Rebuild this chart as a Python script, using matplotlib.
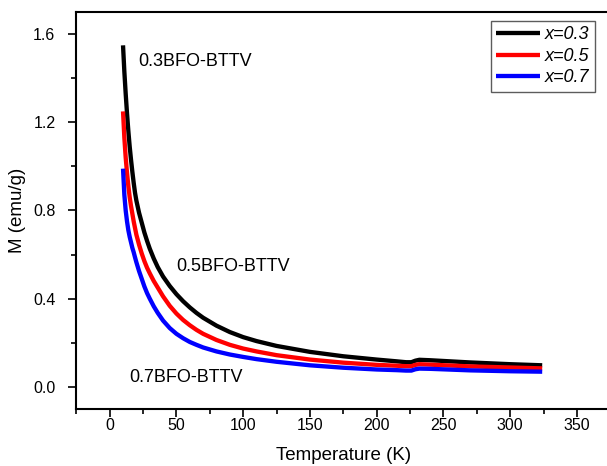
import numpy as np
import matplotlib
matplotlib.use('Agg')
import matplotlib.pyplot as plt
from matplotlib.ticker import MultipleLocator, FormatStrFormatter

plt.rcParams['font.family'] = ['Liberation Sans', 'DejaVu Sans']

# temperature grid (K)
temp = [10, 11, 12, 13, 14, 15, 16, 17, 18, 19, 20, 22, 24, 26, 28, 30, 33, 36,
        40, 45, 50, 55, 60, 65, 70, 80, 90, 100, 110, 125, 150, 175, 200, 215,
        222, 226, 229, 232, 240, 270, 300, 324]

# magnetization (emu/g) for each composition
m_03 = [1.55, 1.43, 1.33, 1.24, 1.16, 1.09, 1.03, 0.975, 0.925, 0.88, 0.845,
        0.79, 0.745, 0.70, 0.662, 0.627, 0.582, 0.543, 0.50, 0.457, 0.42, 0.388,
        0.36, 0.335, 0.313, 0.277, 0.248, 0.225, 0.207, 0.185, 0.158, 0.138,
        0.123, 0.115, 0.111, 0.111, 0.118, 0.122, 0.12, 0.11, 0.102, 0.097]
m_05 = [1.25, 1.13, 1.04, 0.97, 0.91, 0.86, 0.82, 0.785, 0.75, 0.72, 0.69,
        0.645, 0.605, 0.57, 0.54, 0.515, 0.48, 0.45, 0.41, 0.367, 0.332, 0.303,
        0.279, 0.258, 0.24, 0.212, 0.19, 0.173, 0.16, 0.143, 0.123, 0.109,
        0.099, 0.095, 0.093, 0.093, 0.099, 0.102, 0.10, 0.092, 0.087, 0.083]
m_07 = [0.99, 0.87, 0.80, 0.75, 0.71, 0.68, 0.655, 0.63, 0.61, 0.587, 0.565,
        0.525, 0.49, 0.455, 0.425, 0.40, 0.365, 0.335, 0.30, 0.266, 0.24, 0.22,
        0.203, 0.19, 0.178, 0.16, 0.146, 0.135, 0.125, 0.113, 0.097, 0.086,
        0.078, 0.075, 0.073, 0.073, 0.079, 0.082, 0.081, 0.074, 0.07, 0.068]

labels = ['x=0.3', 'x=0.5', 'x=0.7']
colors = ['black', 'red', 'blue']

fig = plt.figure(figsize=(6.07, 4.66), dpi=100)
ax = fig.add_axes([0.1257, 0.1230, 0.8797, 0.8506])

for m, lab, c in zip([m_03, m_05, m_07], labels, colors):
    ax.plot(temp, m, color=c, lw=3.1, label=lab, solid_capstyle='butt',
            solid_joinstyle='round')

ax.set_xlim(-25, 375)
ax.set_ylim(-0.1, 1.7)
ax.xaxis.set_major_locator(MultipleLocator(50))
ax.xaxis.set_minor_locator(MultipleLocator(25))
ax.yaxis.set_major_locator(MultipleLocator(0.4))
ax.yaxis.set_minor_locator(MultipleLocator(0.2))
ax.yaxis.set_major_formatter(FormatStrFormatter('%.1f'))
ax.tick_params(which='major', direction='out', length=6, width=1.2,
               labelsize=11.5)
ax.tick_params(which='minor', direction='out', length=3.5, width=1.2)
ax.tick_params(axis='x', which='major', pad=0.5)
ax.tick_params(axis='y', which='major', pad=9)
for s in ax.spines.values():
    s.set_linewidth(1.5)

ax.set_xlabel('Temperature (K)', fontsize=13.5, labelpad=10)
ax.set_ylabel('M (emu/g)', fontsize=13.5, labelpad=5)

ax.text(21.7, 1.475, '0.3BFO-BTTV', fontsize=13, va='center', ha='left')
ax.text(49.6, 0.545, '0.5BFO-BTTV', fontsize=13, va='center', ha='left')
ax.text(14.8, 0.041, '0.7BFO-BTTV', fontsize=13, va='center', ha='left')

leg = ax.legend(loc='upper right', bbox_to_anchor=(0.980, 0.955),
                bbox_transform=fig.transFigure, borderaxespad=0,
                prop={'style': 'italic', 'size': 13},
                frameon=True, fancybox=False, handlelength=2.4,
                handletextpad=0.3, labelspacing=0.25, borderpad=0.3)
leg.get_frame().set_edgecolor('#333333')
leg.get_frame().set_linewidth(1.0)

fig.savefig('out.png', dpi=100)
